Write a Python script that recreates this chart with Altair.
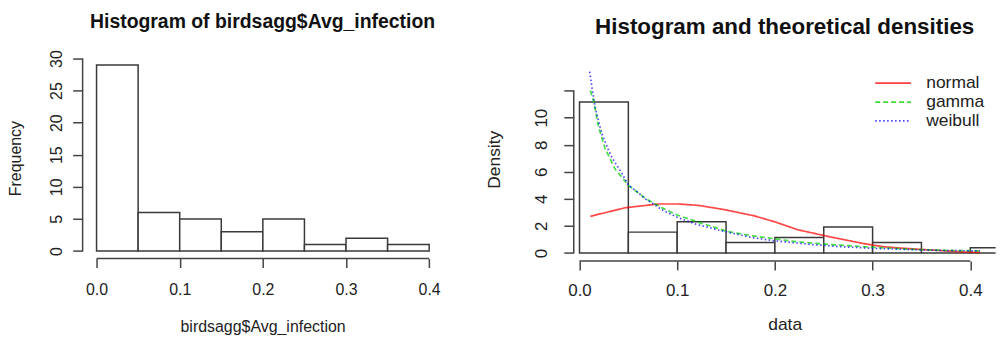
import altair as alt
import pandas as pd

# ---------------- data ----------------
left_bin_start = [0.00, 0.05, 0.10, 0.15, 0.20, 0.25, 0.30, 0.35]
left_bin_end = [0.05, 0.10, 0.15, 0.20, 0.25, 0.30, 0.35, 0.40]
left_counts = [29, 6, 5, 3, 5, 1, 2, 1]

right_bin_start = [0.00, 0.05, 0.10, 0.15, 0.20, 0.25, 0.30, 0.35, 0.40]
right_bin_end = [0.05, 0.10, 0.15, 0.20, 0.25, 0.30, 0.35, 0.40, 0.45]
right_density = [11.15, 1.54, 2.31, 0.77, 1.15, 1.92, 0.77, 0.0, 0.38]

normal_x = [0.0111, 0.0467, 0.0807, 0.101, 0.1214, 0.1486, 0.179, 0.2, 0.2232,
            0.2571, 0.2911, 0.3115, 0.325, 0.3522, 0.369, 0.3895, 0.41]
normal_y = [2.71, 3.34, 3.62, 3.62, 3.52, 3.2, 2.74, 2.3, 1.72,
            1.18, 0.69, 0.46, 0.38, 0.25, 0.18, 0.08, 0.04]

gamma_x = [0.0111, 0.0145, 0.0196, 0.0263, 0.0365, 0.0501, 0.0671, 0.084, 0.1,
           0.1214, 0.1519, 0.1757, 0.1995, 0.2232, 0.2571, 0.2911, 0.3386, 0.3726, 0.41]
gamma_y = [12.0, 11.2, 9.3, 7.7, 6.2, 5.0, 4.05, 3.35, 2.8,
           2.28, 1.58, 1.28, 1.05, 0.82, 0.62, 0.46, 0.27, 0.2, 0.15]

weibull_x = [0.0104, 0.0128, 0.0162, 0.0229, 0.0297, 0.0331, 0.0433, 0.0501, 0.0603,
             0.0671, 0.0773, 0.084, 0.0942, 0.101, 0.118, 0.1418, 0.1588, 0.1757,
             0.1995, 0.2368, 0.2707, 0.3047, 0.3386, 0.3726, 0.41]
weibull_y = [13.4, 12.2, 10.7, 8.8, 7.6, 7.05, 5.9, 5.0, 4.45,
             4.0, 3.55, 3.2, 2.85, 2.6, 2.15, 1.7, 1.42, 1.15,
             0.9, 0.63, 0.45, 0.33, 0.25, 0.18, 0.15]

x_ticks = [0.0, 0.1, 0.2, 0.3, 0.4]
left_y_ticks = [0, 5, 10, 15, 20, 25, 30]
right_y_ticks = [0, 2, 4, 6, 8, 10, 12]
dist_names = ["normal", "gamma", "weibull"]
dist_colors = ["#ff0000", "#00cd00", "#0000ff"]
dist_dashes = [[1, 0], [5, 3], [1.5, 2.5]]

FONT = "Liberation Sans"
TXT = "#222222"
LINE = "#444444"

# ---------------- left panel ----------------
LW, LH = 361.7, 202
lx = alt.Scale(domain=[-0.01675, 0.41603], nice=False, zero=False)
ly = alt.Scale(domain=[-1.18, 30.15], nice=False, zero=False)

lx_axis = alt.Axis(values=x_ticks, format=".1f", title="birdsagg$Avg_infection",
                   domain=False, grid=False, tickSize=9, tickWidth=1.5, tickColor=LINE,
                   labelFontSize=16, labelColor=TXT, labelPadding=14, labelFlush=False,
                   labelOverlap=False, titleFontSize=16, titleFontWeight="normal",
                   titleColor=TXT, titlePadding=21)
ly_axis = alt.Axis(values=left_y_ticks, title="Frequency", domain=False, grid=False,
                   tickSize=10, tickWidth=1.5, tickColor=LINE, labelAngle=270,
                   labelAlign="center", labelBaseline="bottom", labelFontSize=16,
                   labelColor=TXT, labelPadding=8, labelFlush=False, labelOverlap=False,
                   titleFontSize=16, titleFontWeight="normal", titleColor=TXT,
                   titlePadding=25)

left_df = pd.DataFrame({"start": left_bin_start, "end": left_bin_end,
                        "count": left_counts, "base": [0] * len(left_counts)})
left_bars = alt.Chart(left_df).mark_rect(fill="white", stroke="#3a3a3a", strokeWidth=1.5).encode(
    x=alt.X("start:Q", scale=lx, axis=lx_axis),
    x2="end:Q",
    y=alt.Y("count:Q", scale=ly, axis=ly_axis),
    y2="base:Q",
)
left_xline = alt.Chart(pd.DataFrame({"start": [x_ticks[0]], "end": [x_ticks[-1]]})).mark_rule(
    color=LINE, strokeWidth=1.5).encode(
    x=alt.X("start:Q", scale=lx, axis=lx_axis), x2="end:Q", y=alt.value(LH))
left_yline = alt.Chart(pd.DataFrame({"count": [left_y_ticks[0]], "top": [left_y_ticks[-1]]})).mark_rule(
    color=LINE, strokeWidth=1.5).encode(
    y=alt.Y("count:Q", scale=ly, axis=ly_axis), y2="top:Q", x=alt.value(0))

left = alt.layer(left_bars, left_xline, left_yline).properties(
    width=LW, height=LH,
    title=alt.TitleParams("Histogram of birdsagg$Avg_infection", fontSize=19.5, fontWeight="bold",
                          font=FONT, color="#111111", anchor="middle", baseline="alphabetic",
                          offset=2.4),
)

# ---------------- right panel ----------------
RW, RH = 424, 204.4
rx = alt.Scale(domain=[-0.0059, 0.4259], nice=False, zero=False)
ry = alt.Scale(domain=[-0.59, 14.44], nice=False, zero=False)

rx_axis = alt.Axis(values=x_ticks, format=".1f", title="data",
                   domain=False, grid=False, tickSize=9, tickWidth=1.5, tickColor=LINE,
                   labelFontSize=17, labelColor=TXT, labelPadding=13, labelFlush=False,
                   labelOverlap=False, titleFontSize=17.5, titleFontWeight="normal",
                   titleColor=TXT, titlePadding=17)
ry_axis = alt.Axis(values=right_y_ticks, title="Density", domain=False, grid=False,
                   tickSize=10, tickWidth=1.5, tickColor=LINE, labelAngle=270,
                   labelAlign="center", labelBaseline="bottom", labelFontSize=17,
                   labelColor=TXT, labelPadding=13, labelFlush=False, labelOverlap=False,
                   labelExpr="datum.value == 12 ? '' : datum.label",
                   titleFontSize=17.5, titleFontWeight="normal", titleColor=TXT,
                   titlePadding=30)

right_df = pd.DataFrame({"x": right_bin_start, "end": right_bin_end,
                         "d": right_density, "base": [0] * len(right_density)})
right_bars = alt.Chart(right_df).mark_rect(fill="white", stroke="#3a3a3a", strokeWidth=1.5,
                                           clip=True).encode(
    x=alt.X("x:Q", scale=rx, axis=rx_axis),
    x2="end:Q",
    y=alt.Y("d:Q", scale=ry, axis=ry_axis),
    y2="base:Q",
)
right_xline = alt.Chart(pd.DataFrame({"x": [x_ticks[0]], "end": [x_ticks[-1]]})).mark_rule(
    color=LINE, strokeWidth=1.5).encode(
    x=alt.X("x:Q", scale=rx, axis=rx_axis), x2="end:Q", y=alt.value(RH))
right_yline = alt.Chart(pd.DataFrame({"d": [right_y_ticks[0]], "top": [right_y_ticks[-1]]})).mark_rule(
    color=LINE, strokeWidth=1.5).encode(
    y=alt.Y("d:Q", scale=ry, axis=ry_axis), y2="top:Q", x=alt.value(0))

curve_rows = []
for name, xs, ys in [("normal", normal_x, normal_y), ("gamma", gamma_x, gamma_y),
                     ("weibull", weibull_x, weibull_y)]:
    for i, (xv, yv) in enumerate(zip(xs, ys)):
        curve_rows.append({"x": xv, "d": yv, "dist": name, "idx": i})
curve_df = pd.DataFrame(curve_rows)

legend = alt.Legend(title=None, orient="none", legendX=302, legendY=15.7,
                    symbolType="M-1,0H3", symbolSize=324, symbolStrokeWidth=1.7,
                    symbolFillColor="transparent", symbolOpacity=0.75,
                    labelFontSize=17.5, labelColor=TXT, labelFont=FONT, labelOffset=32.3,
                    rowPadding=-1, padding=0)
curves = alt.Chart(curve_df).mark_line(strokeWidth=1.7, opacity=0.72, clip=True).encode(
    x=alt.X("x:Q", scale=rx, axis=rx_axis),
    y=alt.Y("d:Q", scale=ry, axis=ry_axis),
    color=alt.Color("dist:N", scale=alt.Scale(domain=dist_names, range=dist_colors), legend=legend),
    strokeDash=alt.StrokeDash("dist:N", scale=alt.Scale(domain=dist_names, range=dist_dashes),
                              legend=legend),
    order="idx:Q",
)

right = alt.layer(right_bars, right_xline, right_yline, curves).properties(
    width=RW, height=RH,
    title=alt.TitleParams("Histogram and theoretical densities", fontSize=22.5, fontWeight="bold",
                          font=FONT, color="#111111", anchor="middle", baseline="alphabetic",
                          offset=1.5),
)

chart = alt.hconcat(left, right, spacing=131.6, bounds="flush").resolve_legend(
    color="independent", strokeDash="independent"
).properties(
    padding={"left": 0, "top": 3, "right": 0, "bottom": 0}
).configure(font=FONT).configure_view(stroke=None)

chart.save("out.html", embed_options={"renderer": "svg", "actions": False})
